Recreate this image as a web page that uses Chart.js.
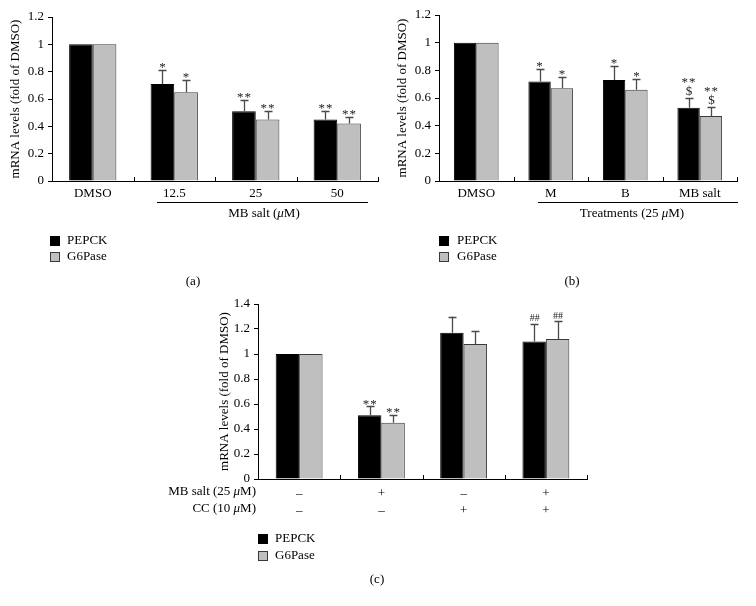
<!DOCTYPE html>
<html>
<head>
<meta charset="utf-8">
<script src="https://cdn.jsdelivr.net/npm/chart.js@4.4.1/dist/chart.umd.min.js"></script>
<style>
  body { margin: 0; background: #fff; width: 756px; height: 606px; position: relative; overflow: hidden; }
  canvas { position: absolute; }
</style>
</head>
<body>
<canvas id="chartA"></canvas>
<canvas id="chartB"></canvas>
<canvas id="chartC"></canvas>
<script>
// panel (a): MB salt dose
const catsA = ["DMSO", "12.5", "25", "50"];
const pepckA = [1, 0.71, 0.51, 0.45];
const pepckErrA = [0, 0.10, 0.08, 0.06];
const g6paseA = [1, 0.65, 0.45, 0.42];
const g6paseErrA = [0, 0.09, 0.06, 0.05];
const pepckSigA = [[], ["*"], ["**"], ["**"]];
const g6paseSigA = [[], ["*"], ["**"], ["**"]];

// panel (b): treatments at 25 uM
const catsB = ["DMSO", "M", "B", "MB salt"];
const pepckB = [1, 0.72, 0.73, 0.53];
const pepckErrB = [0, 0.09, 0.10, 0.07];
const g6paseB = [1, 0.67, 0.66, 0.47];
const g6paseErrB = [0, 0.08, 0.08, 0.065];
const pepckSigB = [[], ["*"], ["*"], ["$", "**"]];
const g6paseSigB = [[], ["*"], ["*"], ["$", "**"]];

// panel (c): MB salt +/- CC
const mbSaltC = ["–", "+", "–", "+"];
const ccC = ["–", "–", "+", "+"];
const pepckC = [1, 0.51, 1.17, 1.10];
const pepckErrC = [0, 0.07, 0.13, 0.14];
const g6paseC = [1, 0.45, 1.08, 1.12];
const g6paseErrC = [0, 0.06, 0.10, 0.14];
const pepckSigC = [[], ["**"], [], ["##"]];
const g6paseSigC = [[], ["**"], [], ["##"]];

const yMaxAB = 1.2;
const yMaxC = 1.4;
const yStep = 0.2;

const FAMILY = "'Liberation Serif', 'DejaVu Serif', serif";
const BLACK = "#000000";
const GRAY = "#bfbfbf";
const GRAY_EDGE = "#3a3a3a";
const ERR = "#4a4a4a";

Chart.defaults.font.family = FAMILY;
Chart.defaults.font.size = 13;
Chart.defaults.color = "#000";

function richText(ctx, parts, x, y, align) {
  ctx.save();
  ctx.textBaseline = "middle";
  ctx.textAlign = "left";
  const fonts = parts.map((p) => (p[1] ? "italic " : "") + "13px " + FAMILY);
  let total = 0;
  const widths = parts.map((p, i) => {
    ctx.font = fonts[i];
    const w = ctx.measureText(p[0]).width;
    total += w;
    return w;
  });
  let cx = align === "right" ? x - total : align === "center" ? x - total / 2 : x;
  parts.forEach((p, i) => {
    ctx.font = fonts[i];
    ctx.fillText(p[0], cx, y);
    cx += widths[i];
  });
  ctx.restore();
}

function panelPlugin(p) {
  const ox = p.box.left, oy = p.box.top;
  return {
    id: "panel_" + p.id,
    afterDatasetsDraw(chart) {
      const ctx = chart.ctx;
      const yScale = chart.scales.y;
      ctx.save();
      p.series.forEach((s, di) => {
        const meta = chart.getDatasetMeta(di);
        meta.data.forEach((bar, i) => {
          let top = bar.y;
          if (s.err[i]) {
            top = yScale.getPixelForValue(s.values[i] + s.err[i]);
            const bx = Math.round(bar.x) + 0.5;
            ctx.strokeStyle = ERR;
            ctx.lineWidth = 1.3;
            ctx.beginPath();
            ctx.moveTo(bx, bar.y);
            ctx.lineTo(bx, top);
            ctx.moveTo(bx - 4, Math.round(top) + 0.5);
            ctx.lineTo(bx + 4, Math.round(top) + 0.5);
            ctx.stroke();
          }
          // significance marks, listed from the bottom up
          let cursor = top;
          ctx.fillStyle = "#222";
          ctx.textAlign = "center";
          ctx.textBaseline = "alphabetic";
          s.sig[i].forEach((t) => {
            let base;
            if (t.indexOf("*") >= 0) {
              ctx.font = "13px " + FAMILY;
              ctx.letterSpacing = "1px";
              base = cursor + 1;
              cursor = base - 9;
            } else if (t.indexOf("#") >= 0) {
              ctx.font = "10px " + FAMILY;
              ctx.letterSpacing = "0px";
              base = cursor - 3;
              cursor = base - 8;
            } else {
              ctx.font = "13px " + FAMILY;
              ctx.letterSpacing = "0px";
              base = cursor - 3;
              cursor = base - 10;
            }
            ctx.fillText(t, bar.x + 0.5, base);
          });
          ctx.letterSpacing = "0px";
        });
      });
      ctx.restore();
    },
    afterDraw(chart) {
      const ctx = chart.ctx;
      const x = chart.scales.x;
      const area = chart.chartArea;
      ctx.save();
      // inward ticks at category boundaries
      ctx.strokeStyle = "#000";
      ctx.lineWidth = 1;
      ctx.beginPath();
      const n = p.cats.length;
      for (let i = 1; i <= n; i++) {
        const bx = i < n ? (x.getPixelForValue(i - 1) + x.getPixelForValue(i)) / 2 : area.right - 0.5;
        const rx = Math.round(bx) + 0.5;
        ctx.moveTo(rx, area.bottom);
        ctx.lineTo(rx, area.bottom - 4);
      }
      ctx.stroke();

      // group underline and subtitle
      if (p.group) {
        const g = p.group;
        ctx.beginPath();
        ctx.moveTo(g.x1 - ox, Math.round(g.y - oy) + 0.5);
        ctx.lineTo(g.x2 - ox, Math.round(g.y - oy) + 0.5);
        ctx.stroke();
        richText(ctx, g.text, g.tx - ox, g.ty - oy, "center");
      }

      // row headers for panel (c)
      if (p.rows) {
        p.rows.forEach((r) => richText(ctx, r.text, r.x - ox, r.y - oy, "right"));
      }

      // legend
      const lg = p.legend;
      [[BLACK, "#000", "PEPCK"], [GRAY, GRAY_EDGE, "G6Pase"]].forEach((it, k) => {
        const cy = lg.y[k] - oy;
        const bx = lg.box - ox;
        ctx.fillStyle = it[0];
        ctx.fillRect(bx, Math.round(cy - 5), 10, 10);
        ctx.strokeStyle = it[1];
        ctx.strokeRect(bx + 0.5, Math.round(cy - 5) + 0.5, 9, 9);
        ctx.fillStyle = "#000";
        ctx.font = "13px " + FAMILY;
        ctx.textAlign = "left";
        ctx.textBaseline = "middle";
        ctx.fillText(it[2], lg.text - ox, cy);
      });

      // panel label
      ctx.font = "13px " + FAMILY;
      ctx.textAlign = "center";
      ctx.textBaseline = "middle";
      ctx.fillText(p.label.text, p.label.x - ox, p.label.y - oy);
      ctx.restore();
    },
  };
}

function makePanel(p) {
  const canvas = document.getElementById(p.id);
  canvas.width = p.box.width;
  canvas.height = p.box.height;
  canvas.style.left = p.box.left + "px";
  canvas.style.top = p.box.top + "px";

  const yAxisWidth = p.area.left - p.box.left;
  const xAxisHeight = p.box.top + p.box.height - p.area.bottom;

  return new Chart(canvas, {
    type: "bar",
    data: {
      labels: p.cats,
      datasets: [
        {
          label: "PEPCK",
          data: p.series[0].values,
          backgroundColor: BLACK,
          borderColor: BLACK,
          borderWidth: 1,
        },
        {
          label: "G6Pase",
          data: p.series[1].values,
          backgroundColor: GRAY,
          borderColor: GRAY_EDGE,
          borderWidth: 1,
        },
      ],
    },
    options: {
      responsive: false,
      animation: false,
      devicePixelRatio: 1,
      layout: {
        padding: {
          left: 0,
          top: p.area.top - p.box.top,
          right: p.box.left + p.box.width - p.area.right,
          bottom: 0,
        },
      },
      datasets: {
        bar: { categoryPercentage: p.catPct, barPercentage: 1 },
      },
      plugins: {
        legend: { display: false },
        tooltip: { enabled: false },
      },
      scales: {
        x: {
          grid: { display: false, drawTicks: false },
          border: { display: true, color: "#000", width: 1 },
          ticks: {
            padding: p.xPad,
            color: "#000",
            font: { size: 13, lineHeight: p.xLine },
            maxRotation: 0,
            autoSkip: false,
          },
          afterFit(scale) {
            scale.height = xAxisHeight;
          },
        },
        y: {
          min: 0,
          max: p.yMax,
          grid: { drawOnChartArea: false, drawTicks: true, tickLength: 4, color: "#000" },
          border: { display: true, color: "#000", width: 1 },
          ticks: {
            stepSize: yStep,
            padding: 4,
            color: "#000",
            callback: (v) => String(+v.toFixed(1)),
          },
          title: {
            display: true,
            text: "mRNA levels (fold of DMSO)",
            color: "#000",
            font: { size: 13 },
            padding: { top: p.titlePad, bottom: 0 },
          },
          afterFit(scale) {
            scale.width = yAxisWidth;
          },
        },
      },
    },
    plugins: [panelPlugin(p)],
  });
}

makePanel({
  id: "chartA",
  box: { left: 0, top: 0, width: 382, height: 295 },
  area: { left: 52, top: 17, right: 378, bottom: 181 },
  cats: catsA,
  catPct: 0.58,
  yMax: yMaxAB,
  xPad: 5,
  xLine: 1.2,
  titlePad: 8,
  series: [
    { values: pepckA, err: pepckErrA, sig: pepckSigA },
    { values: g6paseA, err: g6paseErrA, sig: g6paseSigA },
  ],
  group: { x1: 157, x2: 368, y: 202, tx: 264, ty: 214, text: [["MB salt (", false], ["μ", true], ["M)", false]] },
  legend: { box: 50, text: 67, y: [241, 257] },
  label: { text: "(a)", x: 193, y: 282 },
});

makePanel({
  id: "chartB",
  box: { left: 380, top: 0, width: 376, height: 295 },
  area: { left: 439, top: 15, right: 737, bottom: 181 },
  cats: catsB,
  catPct: 0.6,
  yMax: yMaxAB,
  xPad: 5,
  xLine: 1.2,
  titlePad: 15,
  series: [
    { values: pepckB, err: pepckErrB, sig: pepckSigB },
    { values: g6paseB, err: g6paseErrB, sig: g6paseSigB },
  ],
  group: { x1: 538, x2: 738, y: 202, tx: 632, ty: 214, text: [["Treatments (25 ", false], ["μ", true], ["M)", false]] },
  legend: { box: 439, text: 457, y: [241, 257] },
  label: { text: "(b)", x: 572, y: 282 },
});

makePanel({
  id: "chartC",
  box: { left: 140, top: 285, width: 460, height: 321 },
  area: { left: 258, top: 304, right: 587, bottom: 479 },
  cats: mbSaltC.map((m, i) => [m, ccC[i]]),
  catPct: 0.57,
  yMax: yMaxC,
  xPad: 6,
  xLine: 1.3,
  titlePad: 77,
  series: [
    { values: pepckC, err: pepckErrC, sig: pepckSigC },
    { values: g6paseC, err: g6paseErrC, sig: g6paseSigC },
  ],
  rows: [
    { x: 256, y: 492, text: [["MB salt (25 ", false], ["μ", true], ["M)", false]] },
    { x: 256, y: 509, text: [["CC (10 ", false], ["μ", true], ["M)", false]] },
  ],
  legend: { box: 258, text: 275, y: [539, 556] },
  label: { text: "(c)", x: 377, y: 580 },
});
</script>
</body>
</html>
